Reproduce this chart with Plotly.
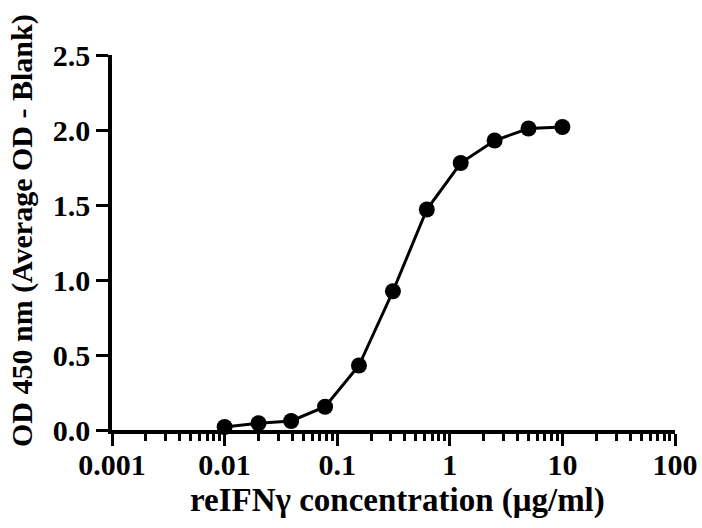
import plotly.graph_objects as go

conc = [0.01, 0.02, 0.039, 0.078, 0.156, 0.3125, 0.625, 1.25, 2.5, 5, 10]
od = [0.02, 0.045, 0.06, 0.155, 0.43, 0.925, 1.47, 1.78, 1.93, 2.01, 2.02]
x_ticks = [0.001, 0.01, 0.1, 1, 10, 100]
x_labels = ["0.001", "0.01", "0.1", "1", "10", "100"]
y_ticks = [0.0, 0.5, 1.0, 1.5, 2.0, 2.5]
y_labels = ["0.0", "0.5", "1.0", "1.5", "2.0", "2.5"]
x_title = "reIFNγ concentration (μg/ml)"
y_title = "OD 450 nm (Average OD - Blank)"

FONT = "Liberation Serif"

fig = go.Figure()
fig.add_trace(go.Scatter(
    x=conc, y=od, mode="lines+markers",
    line=dict(color="black", width=3),
    marker=dict(color="black", size=16),
    cliponaxis=False, showlegend=False,
))

fig.update_layout(
    width=702, height=528,
    margin=dict(l=112, r=27, t=55, b=98),
    paper_bgcolor="white", plot_bgcolor="white",
    font=dict(family=FONT, color="black"),
    annotations=[
        dict(text=x_title, xref="paper", yref="paper", x=0.507, y=-0.187,
             xanchor="center", yanchor="middle", showarrow=False,
             font=dict(family=FONT, size=33, weight="bold", color="black")),
        dict(text=y_title, xref="paper", yref="paper", x=-0.16, y=0.533,
             xanchor="center", yanchor="middle", showarrow=False, textangle=-90,
             font=dict(family=FONT, size=30, weight="bold", color="black")),
    ],
)
fig.update_xaxes(
    type="log", range=[-3, 2], automargin=False,
    tickvals=x_ticks, ticktext=x_labels,
    tickfont=dict(family=FONT, size=30, weight="bold", color="black"),
    ticks="outside", ticklen=12, tickwidth=3, tickcolor="black",
    ticklabelstandoff=-7,
    minor=dict(ticks="outside", ticklen=7, tickwidth=2.5, tickcolor="black",
               tickvals=[m * 10 ** e for e in range(-3, 2) for m in range(2, 10)]),
    showline=True, linecolor="black", linewidth=3.5,
    showgrid=False, zeroline=False,
)
fig.update_yaxes(
    range=[0, 2.5], automargin=False,
    tickvals=y_ticks, ticktext=y_labels,
    tickfont=dict(family=FONT, size=30, weight="bold", color="black"),
    ticks="outside", ticklen=12, tickwidth=3, tickcolor="black",
    showline=True, linecolor="black", linewidth=3.5,
    showgrid=False, zeroline=False,
)

fig.write_html("out.html")
